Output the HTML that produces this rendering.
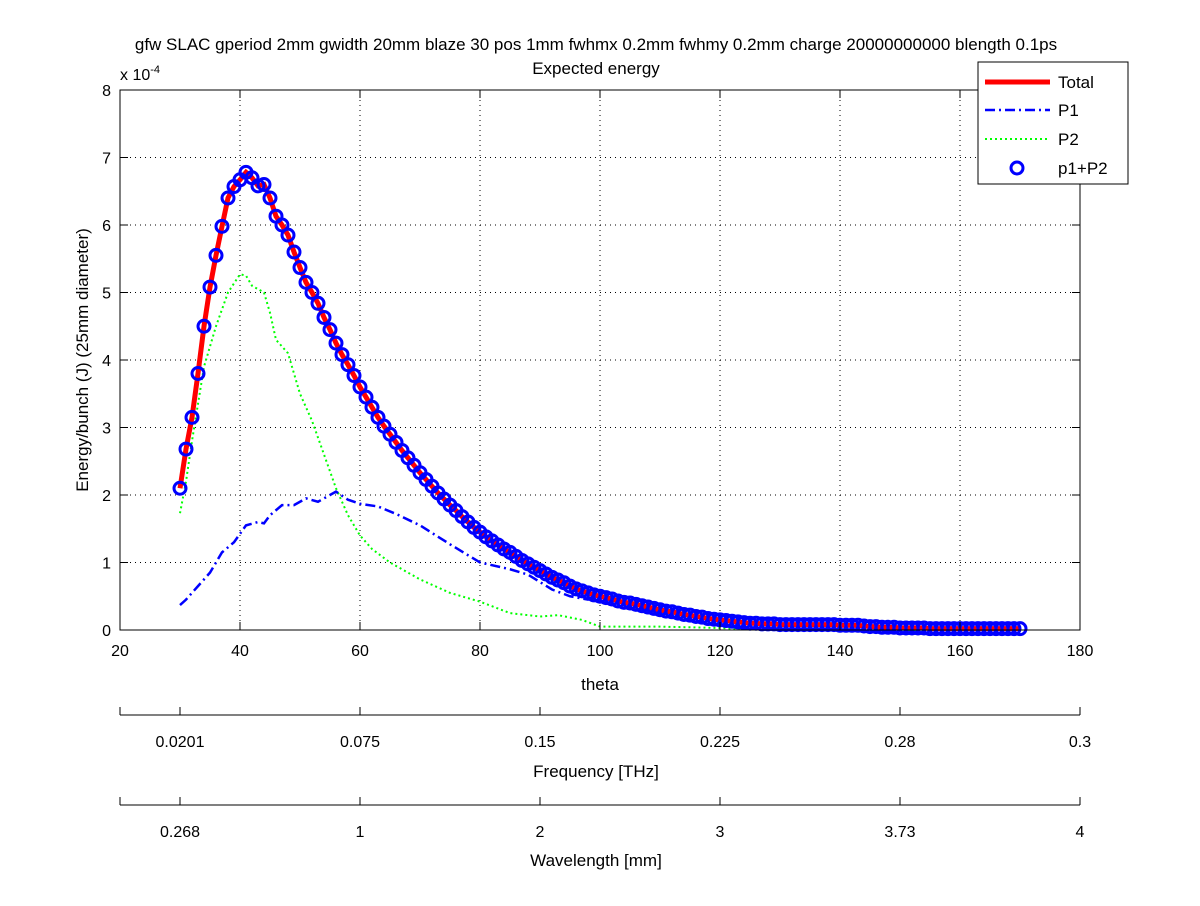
<!DOCTYPE html>
<html><head><meta charset="utf-8"><style>
body{margin:0;background:#fff;}
svg{font-family:"Liberation Sans",sans-serif;}
</style></head><body>
<svg id="c" width="1200" height="901" viewBox="0 0 1200 901" xmlns="http://www.w3.org/2000/svg">
<rect x="0" y="0" width="1200" height="901" fill="#fff"/>
<text x="596" y="50" font-size="17" text-anchor="middle">gfw SLAC gperiod 2mm gwidth 20mm blaze 30 pos 1mm fwhmx 0.2mm fwhmy 0.2mm charge 20000000000 blength 0.1ps</text>
<text x="596" y="74" font-size="17" text-anchor="middle">Expected energy</text>
<g id="grid"></g>
<g id="series"></g>
<rect x="120" y="90" width="960" height="540" fill="none" stroke="#000" stroke-width="1"/>
<g id="axes"></g>
<text x="120" y="80" font-size="16">x 10<tspan font-size="11" dy="-7">-4</tspan></text>
<text transform="translate(88,360) rotate(-90)" font-size="17" text-anchor="middle">Energy/bunch (J) (25mm diameter)</text>
<text x="600" y="690" font-size="17" text-anchor="middle">theta</text>
<text x="596" y="777" font-size="17" text-anchor="middle">Frequency [THz]</text>
<text x="596" y="866" font-size="17" text-anchor="middle">Wavelength [mm]</text>
<g>
<rect x="978" y="62" width="150" height="122" fill="#fff" stroke="#000"/>
<line x1="985" y1="82" x2="1050" y2="82" stroke="#f00" stroke-width="5"/>
<text x="1058" y="88" font-size="17">Total</text>
<line x1="985" y1="110" x2="1050" y2="110" stroke="#00f" stroke-width="2.5" stroke-dasharray="10,4,2,4"/>
<text x="1058" y="116" font-size="17">P1</text>
<line x1="985" y1="139" x2="1050" y2="139" stroke="#0f0" stroke-width="2" stroke-dasharray="2,3"/>
<text x="1058" y="145" font-size="17">P2</text>
<circle cx="1017" cy="168" r="6" fill="none" stroke="#00f" stroke-width="3"/>
<text x="1058" y="174" font-size="17">p1+P2</text>
</g>
</svg>
<script>
const xTicks=[20,40,60,80,100,120,140,160,180];
const yTicks=[0,1,2,3,4,5,6,7,8];
const freqLabels=["0.0201","0.075","0.15","0.225","0.28","0.3"];
const waveLabels=["0.268","1","2","3","3.73","4"];
const secTickTheta=[30,60,90,120,150,180];
const totalStart=30;
const totalVals=[2.1,2.68,3.15,3.8,4.5,5.08,5.55,5.98,6.4,6.57,6.67,6.78,6.7,6.58,6.6,6.4,6.13,6.0,5.85,5.6,
5.37,5.15,5.0,4.84,4.63,4.45,4.25,4.08,3.93,3.77,3.6,3.45,3.3,3.15,3.02,2.9,2.78,2.66,2.55,2.44,
2.33,2.23,2.13,2.03,1.94,1.85,1.77,1.68,1.6,1.52,1.45,1.38,1.32,1.26,1.2,1.15,1.09,1.03,0.98,0.93,
0.88,0.83,0.78,0.74,0.7,0.65,0.61,0.58,0.55,0.52,0.5,0.48,0.46,0.43,0.41,0.4,0.38,0.36,0.34,0.32,
0.3,0.28,0.27,0.25,0.23,0.22,0.2,0.19,0.17,0.16,0.15,0.14,0.13,0.12,0.11,0.1,0.1,0.09,0.09,0.09,
0.08,0.08,0.08,0.08,0.08,0.08,0.08,0.08,0.08,0.08,0.07,0.07,0.07,0.07,0.06,0.05,0.05,0.04,0.04,0.04,
0.03,0.03,0.03,0.03,0.03,0.02,0.02,0.02,0.02,0.02,0.02,0.02,0.02,0.02,0.02,0.02,0.02,0.02,0.02,0.02,0.02];
const p1Theta=[30,31,33,35,37,39,41,43,44,45,47,49,51,53,54,56,58,60,63,66,70,75,80,85,88,92,95,98,100,105,110,115,120,125,130,140,150,160,170];
const p1Vals=[0.37,0.45,0.65,0.85,1.15,1.3,1.55,1.6,1.58,1.7,1.85,1.85,1.95,1.9,1.95,2.05,1.93,1.87,1.83,1.72,1.55,1.27,1.0,0.9,0.82,0.6,0.5,0.45,0.48,0.37,0.27,0.2,0.13,0.09,0.07,0.06,0.03,0.02,0.02];
const p2Theta=[30,31,32,34,36,38,40,41,42,44,45,46,48,50,52,54,56,58,60,62,65,70,75,80,85,90,93,97,100,105,110,115,120,125,130,140,150,160,170];
const p2Vals=[1.73,2.2,2.8,3.9,4.5,5.0,5.27,5.25,5.1,5.0,4.7,4.3,4.1,3.5,3.1,2.6,2.1,1.7,1.4,1.2,1.0,0.75,0.55,0.42,0.25,0.2,0.22,0.15,0.05,0.05,0.05,0.04,0.03,0.01,0.01,0.01,0.0,0.0,0.0];
const NS="http://www.w3.org/2000/svg";
const X=v=>120+(v-20)*6;
const Y=v=>630-v*67.5;
function mk(tag,attrs,parent){const e=document.createElementNS(NS,tag);for(const k in attrs)e.setAttribute(k,attrs[k]);parent.appendChild(e);return e;}
const grid=document.getElementById('grid'),axes=document.getElementById('axes'),ser=document.getElementById('series');
xTicks.forEach(t=>{
 if(t>20&&t<180){const g=mk('line',{x1:X(t),x2:X(t),y1:90,y2:630,stroke:'#000','stroke-width':1,'stroke-dasharray':'1,4'},grid);
 }
 const tk=mk('line',{x1:X(t),x2:X(t),y1:630,y2:622,stroke:'#000'},axes);
 
 const tk2=mk('line',{x1:X(t),x2:X(t),y1:90,y2:98,stroke:'#000'},axes);
 
 const l=mk('text',{x:X(t),y:656,'font-size':16,'text-anchor':'middle'},axes);l.textContent=t;
 
});
yTicks.forEach(t=>{
 if(t>0&&t<8){const g=mk('line',{x1:120,x2:1080,y1:Y(t),y2:Y(t),stroke:'#000','stroke-width':1,'stroke-dasharray':'1,4'},grid);
 }
 const tk=mk('line',{x1:120,x2:128,y1:Y(t),y2:Y(t),stroke:'#000'},axes);
 
 const tk2=mk('line',{x1:1072,x2:1080,y1:Y(t),y2:Y(t),stroke:'#000'},axes);
 
 const l=mk('text',{x:111,y:Y(t)+6,'font-size':16,'text-anchor':'end'},axes);l.textContent=t;
 
});
[[715,freqLabels,'frequency'],[805,waveLabels,'wavelength']].forEach(([yy,labs,nm])=>{
 const ln=mk('line',{x1:120,x2:1080,y1:yy,y2:yy,stroke:'#000'},axes);
 
 labs.forEach((s,i)=>{
  const x=X(secTickTheta[i]);
  const tk=mk('line',{x1:x,x2:x,y1:yy,y2:yy-8,stroke:'#000'},axes);
  
  const l=mk('text',{x:x,y:yy+32,'font-size':16,'text-anchor':'middle'},axes);l.textContent=s;
  
 });
 const t0=mk('line',{x1:120,x2:120,y1:yy,y2:yy-8,stroke:'#000'},axes);
 
});
const pts=(xs,ys)=>xs.map((x,i)=>X(x)+','+Y(ys[i])).join(' ');
const tTheta=totalVals.map((v,i)=>totalStart+i);
const p2=mk('polyline',{points:pts(p2Theta,p2Vals),fill:'none',stroke:'#0f0','stroke-width':2,'stroke-dasharray':'2,3'},ser);

const p1=mk('polyline',{points:pts(p1Theta,p1Vals),fill:'none',stroke:'#00f','stroke-width':2.5,'stroke-dasharray':'10,4,2,4'},ser);

const tot=mk('polyline',{points:pts(tTheta,totalVals),fill:'none',stroke:'#f00','stroke-width':5},ser);

totalVals.forEach((v,i)=>{
 const c=mk('circle',{cx:X(tTheta[i]),cy:Y(v),r:6,fill:'none',stroke:'#00f','stroke-width':3},ser);
 
});
</script>
</body></html>
